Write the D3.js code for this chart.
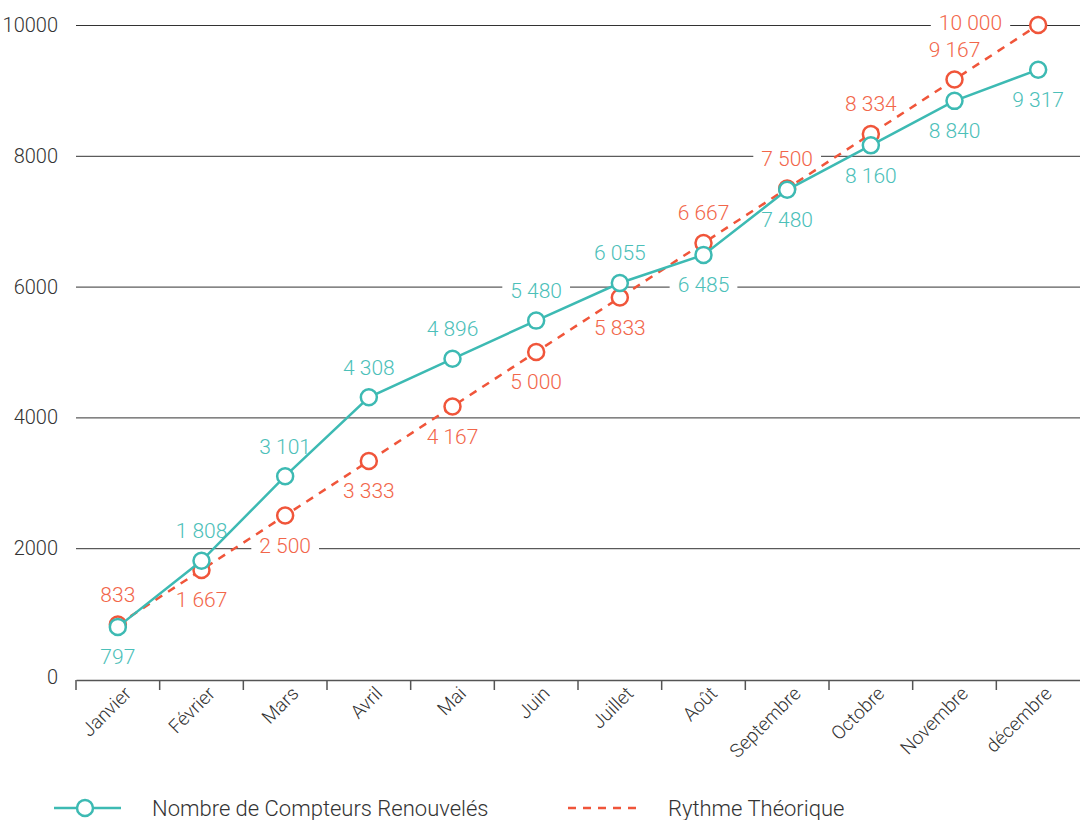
<!DOCTYPE html>
<html>
<head>
<meta charset="utf-8">
<script src="https://cdn.jsdelivr.net/npm/d3@7"></script>
<style>
  body { margin: 0; background: #fff; }
  text { font-family: "Roboto", "Noto Sans", sans-serif; font-weight: 300; }
</style>
</head>
<body>
<div id="svg-container"></div>
<script>
// data
const months = ["Janvier", "Février", "Mars", "Avril", "Mai", "Juin", "Juillet",
  "Août", "Septembre", "Octobre", "Novembre", "décembre"];
const renouveles = [797, 1808, 3101, 4308, 4896, 5480, 6055, 6485, 7480, 8160, 8840, 9317];
const theorique = [833, 1667, 2500, 3333, 4167, 5000, 5833, 6667, 7500, 8334, 9167, 10000];
const yTicks = [0, 2000, 4000, 6000, 8000, 10000];

const width = 1080, height = 820;
const margin = { top: 25, right: 0, bottom: 141, left: 76 };
const teal = "#3dbab3", orange = "#f0553a";
const tealText = "#4cc0b9", orangeText = "#f2664a";

const svg = d3.select("#svg-container").append("svg")
  .attr("width", width).attr("height", height);

const fr = d3.formatLocale({ decimal: ",", thousands: " ", grouping: [3], currency: ["", "€"] });
const fmt = fr.format(",d");

const x = d3.scaleBand().domain(months).range([margin.left, width - margin.right]);
const y = d3.scaleLinear().domain([0, 10000]).range([height - margin.bottom, margin.top]);
const cx = (i) => x(months[i]) + x.bandwidth() / 2;

// grid + y labels
const gy = svg.append("g")
  .attr("transform", `translate(${margin.left},0)`)
  .call(d3.axisLeft(y).tickValues(yTicks).tickFormat(d3.format("d"))
    .tickSize(-(width - margin.left - margin.right)).tickPadding(18));
gy.select(".domain").remove();
gy.selectAll(".tick line").attr("stroke", "#333").attr("stroke-width", 1)
  .filter((d) => d === 0).remove();
gy.selectAll(".tick text").attr("fill", "#333").style("font-size", "20px")
  .style("font-family", "Roboto").style("font-weight", 300)
  .attr("dy", (d) => d === 0 ? "0.2em" : "0.32em");

// x axis
const gx = svg.append("g")
  .attr("transform", `translate(0,${y(0) + 1})`)
  .call(d3.axisBottom(x).tickSize(0).tickSizeOuter(0));
gx.select(".domain").attr("stroke", "#555").attr("stroke-width", 1.5);
gx.selectAll(".tick text")
  .attr("fill", "#333").style("font-size", "19px")
  .style("font-family", "Roboto").style("font-weight", 300)
  .attr("text-anchor", "end")
  .attr("transform", "translate(10,10) rotate(-45)")
  .attr("dy", "0.35em").attr("y", 0);
gx.selectAll(".bound").data(months).enter().append("line")
  .attr("class", "bound")
  .attr("x1", (d) => x(d)).attr("x2", (d) => x(d))
  .attr("y1", 0).attr("y2", 10)
  .attr("stroke", "#555").attr("stroke-width", 1.5);

// labels (with white background), drawn under the lines
const labelG = svg.append("g");
function addLabel(px, py, txt, color, anchor) {
  const t = labelG.append("text")
    .attr("x", px).attr("y", py)
    .attr("text-anchor", anchor || "middle")
    .attr("dy", "0.35em")
    .attr("fill", color)
    .style("font-size", "21px")
    .text(txt);
  const b = t.node().getBBox();
  labelG.insert("rect", () => t.node())
    .attr("x", b.x - 8).attr("y", b.y)
    .attr("width", b.width + 16).attr("height", b.height)
    .attr("fill", "#fff");
}

months.forEach((m, i) => {
  const r = renouveles[i], t = theorique[i];
  const rAbove = r > t;
  if (i === months.length - 1) {
    addLabel(cx(i) - 36, y(t) - 2, fmt(t), orangeText, "end");
  } else {
    addLabel(cx(i), y(t) + (rAbove ? 30 : -30), fmt(t), orangeText);
  }
  addLabel(cx(i), y(r) + (rAbove ? -30 : 30), fmt(r), tealText);
});

// lines
const line = d3.line().x((d, i) => cx(i)).y((d) => y(d));

svg.append("path").datum(theorique)
  .attr("d", line).attr("fill", "none")
  .attr("stroke", orange).attr("stroke-width", 2.5)
  .attr("stroke-dasharray", "8,7");
svg.selectAll(".pt-t").data(theorique).enter().append("circle")
  .attr("cx", (d, i) => cx(i)).attr("cy", (d) => y(d)).attr("r", 8)
  .attr("fill", "#fff").attr("stroke", orange).attr("stroke-width", 2.5);

svg.append("path").datum(renouveles)
  .attr("d", line).attr("fill", "none")
  .attr("stroke", teal).attr("stroke-width", 2.5);
svg.selectAll(".pt-r").data(renouveles).enter().append("circle")
  .attr("cx", (d, i) => cx(i)).attr("cy", (d) => y(d)).attr("r", 8)
  .attr("fill", "#fff").attr("stroke", teal).attr("stroke-width", 2.5);

// legend
const ly = 808;
const lg = svg.append("g");
lg.append("line").attr("x1", 54).attr("x2", 121).attr("y1", ly).attr("y2", ly)
  .attr("stroke", teal).attr("stroke-width", 2.5);
lg.append("circle").attr("cx", 85).attr("cy", ly).attr("r", 8)
  .attr("fill", "#fff").attr("stroke", teal).attr("stroke-width", 2.5);
lg.append("text").attr("x", 152).attr("y", ly).attr("dy", "0.35em")
  .attr("fill", "#333").style("font-size", "22px").text("Nombre de Compteurs Renouvelés");
lg.append("line").attr("x1", 568).attr("x2", 640).attr("y1", ly).attr("y2", ly)
  .attr("stroke", orange).attr("stroke-width", 2.5).attr("stroke-dasharray", "8,7");
lg.append("text").attr("x", 668).attr("y", ly).attr("dy", "0.35em")
  .attr("fill", "#333").style("font-size", "22px").text("Rythme Théorique");
</script>
</body>
</html>
